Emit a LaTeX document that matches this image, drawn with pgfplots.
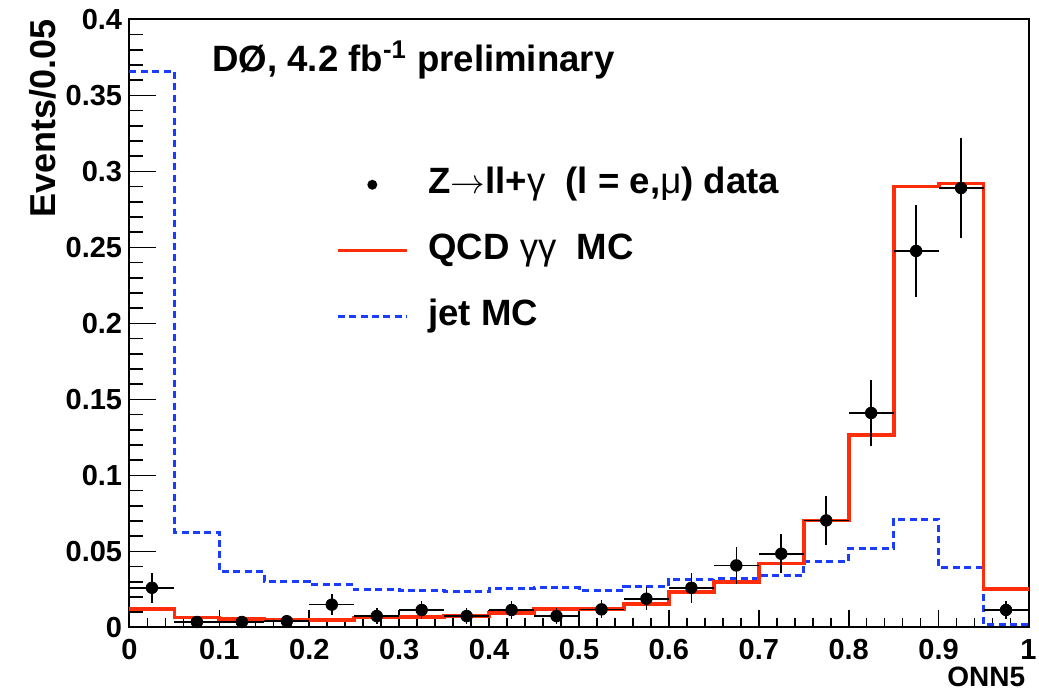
\documentclass[border=0pt]{standalone}
\usepackage{pgfplots}
\usepackage{pgfplotstable}
\pgfplotsset{compat=1.18}
\usepackage{fontspec}
\setmainfont{Liberation Sans}
\definecolor{qcdred}{RGB}{255,45,10}
\definecolor{jetblue}{RGB}{25,60,255}
\pgfplotsset{
  histline/.style={legend image code/.code={\draw[##1] (0pt,0pt) -- (34.5pt,0pt);}},
  datadot/.style={legend image code/.code={\path[draw=none,fill=none] (0pt,0pt) -- (34.5pt,0pt); \fill[black,draw=none] (17.25pt,0pt) circle (2.5pt);}},
}

\pgfplotstableread{
x y
0.00 0.0118
0.05 0.0064
0.10 0.0057
0.15 0.0048
0.20 0.0048
0.25 0.0064
0.30 0.0068
0.35 0.0074
0.40 0.0096
0.45 0.0118
0.50 0.0122
0.55 0.0155
0.60 0.0230
0.65 0.0300
0.70 0.0420
0.75 0.0703
0.80 0.1263
0.85 0.2900
0.90 0.2920
0.95 0.0250
1.00 0.0250
}\qcdtab

\pgfplotstableread{
x y
0.00 0.3658
0.05 0.0626
0.10 0.0366
0.15 0.0300
0.20 0.0280
0.25 0.0250
0.30 0.0240
0.35 0.0233
0.40 0.0254
0.45 0.0260
0.50 0.0240
0.55 0.0267
0.60 0.0315
0.65 0.0320
0.70 0.0340
0.75 0.0434
0.80 0.0520
0.85 0.0710
0.90 0.0394
0.95 0.0020
1.00 0.0020
}\jettab

\pgfplotstableread{
x y ex ey
0.025 0.0260 0.025 0.0100
0.075 0.0035 0.025 0.0030
0.125 0.0035 0.025 0.0030
0.175 0.0040 0.025 0.0030
0.225 0.0149 0.025 0.0070
0.275 0.0074 0.025 0.0050
0.325 0.0114 0.025 0.0060
0.375 0.0074 0.025 0.0050
0.425 0.0114 0.025 0.0060
0.475 0.0074 0.025 0.0050
0.525 0.0118 0.025 0.0060
0.575 0.0188 0.025 0.0077
0.625 0.0260 0.025 0.0097
0.675 0.0407 0.025 0.0120
0.725 0.0484 0.025 0.0130
0.775 0.0703 0.025 0.0160
0.825 0.1410 0.025 0.0220
0.875 0.2476 0.025 0.0300
0.925 0.2890 0.025 0.0330
0.975 0.0114 0.025 0.0060
}\datatab

\begin{document}
\begin{tikzpicture}
\begin{axis}[
  scale only axis,
  width=449.5pt, height=304pt,
  xmin=0, xmax=1, ymin=0, ymax=0.4,
  clip=false,
  axis line style={line width=1pt, black},
  tick pos=left, tick align=inside,
  tick style={black, line width=0.8pt},
  major tick length=13.5pt, minor tick length=7pt,
  major x tick style={/pgfplots/major tick length=8.5pt},
  minor x tick style={/pgfplots/minor tick length=4.5pt},
  xtick={0,0.1,0.2,0.3,0.4,0.5,0.6,0.7,0.8,0.9,1},
  xticklabels={0,0.1,0.2,0.3,0.4,0.5,0.6,0.7,0.8,0.9,1},
  ytick={0,0.05,0.1,0.15,0.2,0.25,0.3,0.35,0.4},
  yticklabels={0,0.05,0.1,0.15,0.2,0.25,0.3,0.35,0.4},
  minor x tick num=4, minor y tick num=4,
  /pgf/number format/assume math mode=true,
  ticklabel style={font=\fontsize{14.5}{17}\selectfont\bfseries},
  xticklabel style={inner sep=0pt, anchor=north, yshift=-6pt},
  yticklabel style={inner sep=0pt, anchor=east, xshift=-3.5pt},
  legend cell align=left,
  legend style={draw=none, fill=none, inner sep=0pt,
    at={(axis cs:0.2295,0.3026)}, anchor=north west,
    font=\fontsize{18.3}{22}\selectfont\bfseries,
    row sep=16pt, column sep=10pt,
    nodes={text height=13pt, text depth=4pt, inner sep=0pt}},
]
\addlegendimage{black, only marks, mark=none, datadot}
\addlegendentry{Z$\rightarrow$ll+{\mdseries γ}\ \ (l = e,{\mdseries μ}) data}
\addlegendimage{color=qcdred, line width=1.6pt, histline}
\addlegendentry{QCD {\mdseries γγ}\ \ MC}
\addlegendimage{color=jetblue, line width=1.5pt, dash pattern=on 3.5pt off 2.2pt, histline}
\addlegendentry{jet MC}

\addplot[forget plot, const plot, color=jetblue, line width=1.5pt, dash pattern=on 3.5pt off 2.2pt] table[x=x,y=y] {\jettab};
\addplot[forget plot, const plot, color=qcdred, line width=1.9pt] table[x=x,y=y] {\qcdtab};
\addplot[forget plot, only marks, mark=*, mark size=2.9pt, black,
  error bars/.cd, x dir=both, x explicit, y dir=both, y explicit,
  error bar style={line width=0.8pt, black}, error mark=none]
  table[x=x, y=y, x error=ex, y error=ey] {\datatab};

\node[anchor=base west, inner sep=0pt, font=\fontsize{18.3}{22}\selectfont\bfseries]
  at (axis cs:0.0917,0.3658) {DØ, 4.2 fb\textsuperscript{-1} preliminary};
\node[rotate=90, anchor=base east, inner sep=0pt, font=\fontsize{18}{22}\selectfont\bfseries]
  at ([xshift=-37pt]rel axis cs:0,1) {Events/0.05};
\node[anchor=base east, inner sep=0pt, font=\fontsize{14}{17}\selectfont\bfseries]
  at ([xshift=-1.5pt,yshift=-29.5pt]rel axis cs:1,0) {ONN5};
\coordinate (sw) at (rel axis cs:0,0);
\coordinate (ne) at (rel axis cs:1,1);
\end{axis}
\pgfresetboundingbox
\path[use as bounding box] ([shift={(-64.75pt,-32.25pt)}]sw) rectangle ([shift={(5.25pt,9.65pt)}]ne);
\end{tikzpicture}
\end{document}
